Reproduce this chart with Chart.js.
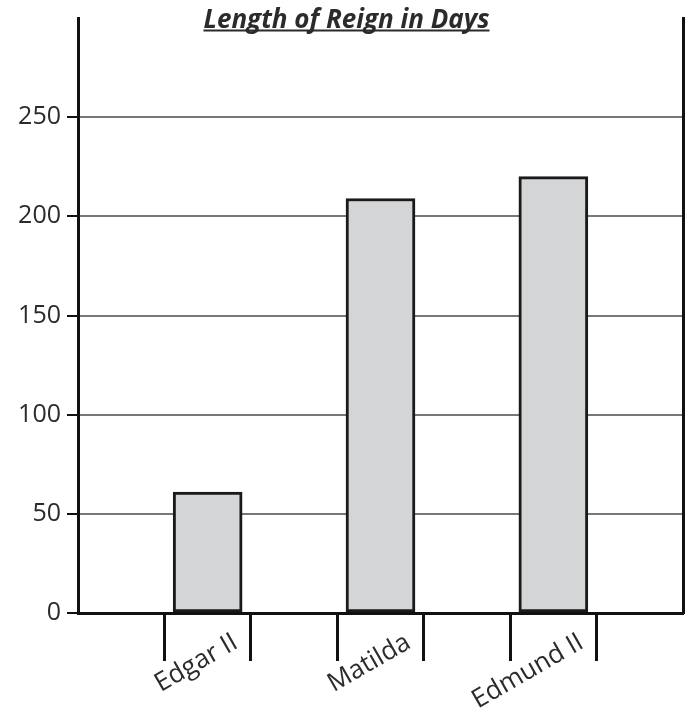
<!DOCTYPE html>
<html>
<head>
<meta charset="utf-8">
<script src="https://cdn.jsdelivr.net/npm/chart.js@4/dist/chart.umd.min.js"></script>
<style>
  html, body { margin: 0; padding: 0; background: #ffffff; }
  #wrap { position: relative; width: 693px; height: 715px; }
</style>
</head>
<body>
<div id="wrap"><canvas id="c" width="693" height="715"></canvas></div>
<script>
// ---- data ----
const TITLE = 'Length of Reign in Days';
const categories = ['Edgar II', 'Matilda', 'Edmund II'];
const reignDays = [61, 209, 220];
const yTickValues = [0, 50, 100, 150, 200, 250];
const yMax = 300;

// ---- style ----
const INK = '#2b2b2b';
const TICK_HALF_GAP = 0.25;   // bracket ticks either side of each category
const X_PAD = 0.75;            // range padding either side of first/last category

const xTickValues = [];
categories.forEach((c, i) => { xTickValues.push(i - TICK_HALF_GAP, i, i + TICK_HALF_GAP); });

const titleFont = { family: 'Open Sans', size: 26, weight: 'bold', style: 'italic', lineHeight: 1.2 };
const titlePad = { top: 4.8, bottom: -18 };

const underlinePlugin = {
  id: 'titleUnderline',
  afterDraw(chart) {
    const tb = chart.titleBlock;
    if (!tb) return;
    const ctx = chart.ctx;
    ctx.save();
    ctx.font = `${titleFont.style} ${titleFont.weight} ${titleFont.size}px "${titleFont.family}"`;
    const w = ctx.measureText(TITLE).width;
    const cx = (tb.left + tb.right) / 2;
    const yMid = tb.top + titlePad.top + titleFont.size * titleFont.lineHeight / 2;
    const y = yMid + 10;
    ctx.strokeStyle = INK;
    ctx.lineWidth = 2;
    ctx.beginPath();
    ctx.moveTo(cx - w / 2, y);
    ctx.lineTo(cx + w / 2, y);
    ctx.stroke();
    ctx.restore();
  }
};

new Chart(document.getElementById('c'), {
  type: 'bar',
  data: {
    datasets: [{
      data: categories.map((c, i) => ({ x: i, y: reignDays[i] })),
      backgroundColor: '#d4d5d7',
      borderColor: '#1a1a1a',
      borderWidth: 3,
      borderSkipped: false,
      barThickness: 69
    }]
  },
  options: {
    responsive: false,
    animation: false,
    layout: { padding: { left: 0, right: 0, top: 0, bottom: 0 } },
    plugins: {
      legend: { display: false },
      tooltip: { enabled: false },
      title: {
        display: true,
        text: TITLE,
        color: INK,
        font: titleFont,
        padding: titlePad
      }
    },
    scales: {
      x: {
        type: 'linear',
        min: -X_PAD,
        max: categories.length - 1 + X_PAD,
        offset: false,
        afterBuildTicks(scale) { scale.ticks = xTickValues.map(v => ({ value: v })); },
        afterFit(scale) { scale.height = 102; },
        grid: {
          offset: false,
          drawOnChartArea: false,
          drawTicks: true,
          tickLength: 48,
          tickWidth: 3,
          tickColor: ctx => Number.isInteger(ctx.tick.value) ? 'rgba(0,0,0,0)' : '#111',
          color: 'rgba(0,0,0,0)'
        },
        border: { display: true, color: '#111', width: 3 },
        ticks: {
          autoSkip: false,
          minRotation: 30,
          maxRotation: 30,
          labelOffset: 28,
          padding: -34,
          color: INK,
          font: { family: 'Open Sans', size: 26 },
          callback: (v) => Number.isInteger(v) ? categories[v] : ''
        }
      },
      y: {
        min: 0,
        max: yMax,
        afterBuildTicks(scale) { scale.ticks = yTickValues.map(v => ({ value: v })); },
        afterFit(scale) { scale.width = 78; },
        grid: {
          color: '#777777',
          lineWidth: 2,
          tickColor: '#111',
          tickWidth: 2,
          tickLength: 11
        },
        border: { display: true, color: '#111', width: 3 },
        ticks: {
          padding: 6,
          color: INK,
          font: { family: 'Open Sans', size: 25, lineHeight: 0.8 }
        }
      },
      yRight: {
        position: 'right',
        min: 0,
        max: yMax,
        afterFit(scale) { scale.width = 10; },
        grid: { drawOnChartArea: false, drawTicks: false },
        border: { display: true, color: '#111', width: 3 },
        ticks: { display: false }
      }
    }
  },
  plugins: [underlinePlugin]
});
</script>
</body>
</html>
